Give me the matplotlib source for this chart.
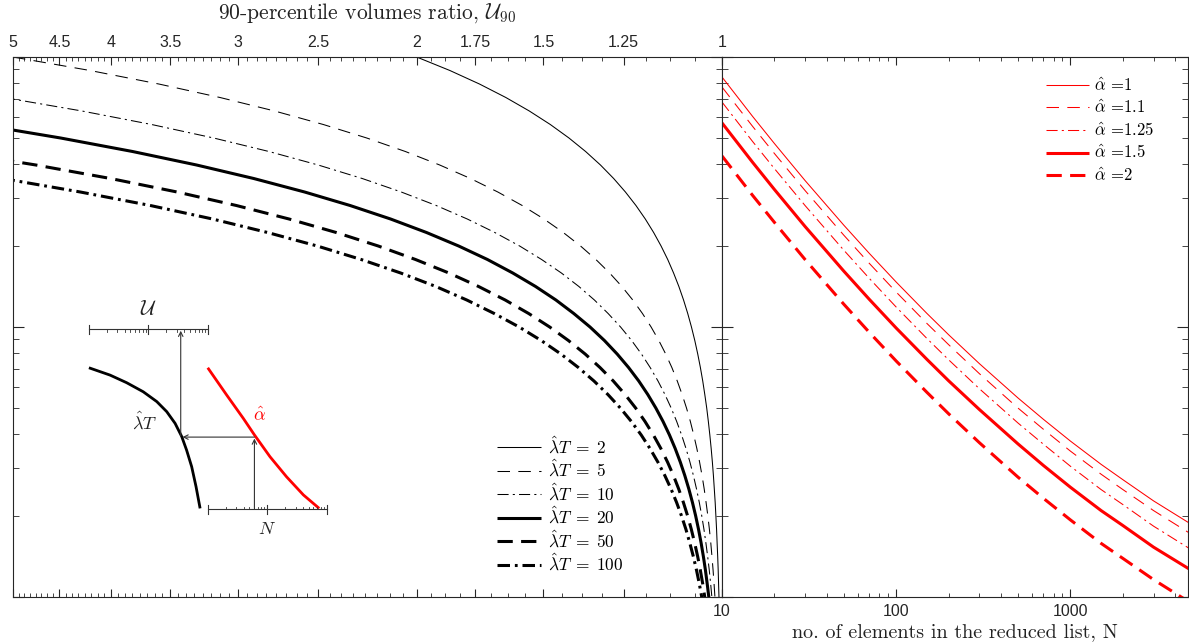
import numpy as np
import matplotlib
matplotlib.use("Agg")
import matplotlib.pyplot as plt
from matplotlib.ticker import FixedLocator, FixedFormatter, NullFormatter, LogLocator

plt.rcParams["mathtext.fontset"] = "cm"
plt.rcParams["font.family"] = ["Liberation Sans", "DejaVu Sans"]
plt.rcParams["lines.scale_dashes"] = False
plt.rcParams["axes.unicode_minus"] = False

# ---------------- data ----------------
# shared vertical quantity (log axis, unlabeled)
y_levels = [1.0, 0.8913, 0.7943, 0.7079, 0.6310, 0.5623, 0.5012, 0.4467, 0.3981, 0.3548,
            0.3162, 0.2818, 0.2512, 0.2239, 0.1995, 0.1778, 0.1585, 0.1413, 0.1259, 0.1122,
            0.1000, 0.0891, 0.0794, 0.0708, 0.0631, 0.0562, 0.0501, 0.0447, 0.0398, 0.0355,
            0.0316, 0.0282, 0.0251, 0.0224, 0.0200, 0.0178, 0.0158, 0.0141, 0.0126, 0.0112,
            0.0100, 0.0089]

lamT_labels = ["2", "5", "10", "20", "50", "100"]
U_lamT_2 = [2.0000, 1.8548, 1.7343, 1.6334, 1.5487, 1.4766, 1.4154, 1.3629, 1.3177, 1.2788,
            1.2451, 1.2157, 1.1902, 1.1679, 1.1483, 1.1311, 1.1162, 1.1029, 1.0912, 1.0809,
            1.0718, 1.0637, 1.0566, 1.0503, 1.0447, 1.0398, 1.0353, 1.0315, 1.0280, 1.0249,
            1.0221, 1.0197, 1.0176, 1.0156, 1.0140, 1.0124, 1.0111, 1.0098, 1.0087, 1.0078,
            1.0069, 1.0062]
U_lamT_5 = [5.000, 4.198, 3.591, 3.125, 2.761, 2.472, 2.240, 2.052, 1.898, 1.770,
            1.6634, 1.5738, 1.4982, 1.4339, 1.3786, 1.3314, 1.2906, 1.2553, 1.2246, 1.1979,
            1.1746, 1.1542, 1.1363, 1.1206, 1.1069, 1.0947, 1.0839, 1.0745, 1.0662, 1.0588,
            1.0522, 1.0464, 1.0412, 1.0368, 1.0327, 1.0290, 1.0257, 1.0230, 1.0205, 1.0182,
            1.0162, 1.0144]
U_lamT_10 = [5.105, 4.276, 3.650, 3.171, 2.797, 2.501, 2.263,
             2.071, 1.913, 1.783, 1.675, 1.583, 1.506, 1.440, 1.384, 1.336, 1.295,
             1.2589, 1.2277, 1.2006, 1.1771, 1.1564, 1.1382, 1.1223, 1.1084, 1.0960, 1.0852,
             1.0755, 1.0671, 1.0595, 1.0529, 1.0471, 1.0418, 1.0371, 1.0330, 1.0294, 1.0261,
             1.0233, 1.0207]
U_lamT_20 = [5.390, 4.488, 3.812, 3.296, 2.895,
             2.579, 2.326, 2.122, 1.956, 1.818, 1.703, 1.608, 1.527, 1.458, 1.400,
             1.3493, 1.3059, 1.2686, 1.2363, 1.2080, 1.1834, 1.1620, 1.1433, 1.1266, 1.1122,
             1.0993, 1.0882, 1.0781, 1.0694, 1.0617, 1.0547, 1.0484, 1.0431, 1.0384, 1.0342,
             1.0304, 1.0271]
U_lamT_50 = [5.740, 4.747, 4.007,
             3.445, 3.011, 2.672, 2.401, 2.182, 2.005, 1.859, 1.738, 1.636, 1.551,
             1.4787, 1.4171, 1.3642, 1.3192, 1.2799, 1.2460, 1.2165, 1.1911, 1.1685, 1.1490,
             1.1316, 1.1166, 1.1032, 1.0916, 1.0813, 1.0721, 1.0638, 1.0567, 1.0505, 1.0448,
             1.0399, 1.0354]
U_lamT_100 = [5.121,
              4.291, 3.660, 3.179, 2.806, 2.506, 2.268, 2.074, 1.915, 1.785, 1.677,
              1.5849, 1.5073, 1.4414, 1.3856, 1.3373, 1.2955, 1.2596, 1.2286, 1.2012, 1.1777,
              1.1567, 1.1387, 1.1225, 1.1086, 1.0964, 1.0853, 1.0756, 1.0671, 1.0597, 1.0529,
              1.0471, 1.0418]

U_ticks = [5, 4.5, 4, 3.5, 3, 2.5, 2, 1.75, 1.5, 1.25, 1]
U_tick_labels = ["5", "4.5", "4", "3.5", "3", "2.5", "2", "1.75", "1.5", "1.25", "1"]

N_values = [10, 15, 20, 30, 50, 70, 100, 150, 200, 300, 500, 700, 1000, 1500, 2000, 3000, 5000]
alpha_labels = ["1", "1.1", "1.25", "1.5", "2"]
y_alpha_1 = [0.843, 0.602, 0.478, 0.3485, 0.2384, 0.1875, 0.1467, 0.1123, 0.0936, 0.0732,
             0.0546, 0.0455, 0.0378, 0.0310, 0.0272, 0.0227, 0.0185]
y_alpha_1_1 = [0.774, 0.553, 0.439, 0.320, 0.2189, 0.1722, 0.1347, 0.1031, 0.0860, 0.0672,
               0.0501, 0.0418, 0.0347, 0.0285, 0.0250, 0.0209, 0.0170]
y_alpha_1_25 = [0.681, 0.486, 0.386, 0.2816, 0.1926, 0.1515, 0.1185, 0.0907, 0.0756, 0.0591,
                0.0441, 0.0368, 0.0305, 0.0250, 0.0220, 0.0183, 0.0149]
y_alpha_1_5 = [0.570, 0.407, 0.323, 0.2355, 0.1611, 0.1267, 0.0991, 0.0759, 0.0632, 0.0495,
               0.0369, 0.0307, 0.0255, 0.0209, 0.0184, 0.0153, 0.0125]
y_alpha_2 = [0.430, 0.307, 0.244, 0.1777, 0.1215, 0.0956, 0.0748, 0.0573, 0.0477, 0.0373,
             0.0278, 0.0232, 0.0193, 0.0158, 0.0139, 0.0116, 0.00943]
N_ticks = [10, 100, 1000]
N_tick_labels = ["10", "100", "1000"]

# schematic inset (how to read the nomogram), inset-axes fractions
inset_black_u = [0.035, 0.118, 0.183, 0.248, 0.301, 0.340, 0.373, 0.399, 0.418, 0.438, 0.455, 0.471]
inset_black_v = [0.703, 0.673, 0.642, 0.605, 0.565, 0.524, 0.476, 0.422, 0.367, 0.299, 0.218, 0.129]
inset_red_u = [0.501, 0.575, 0.640, 0.684, 0.745, 0.810, 0.876, 0.938]
inset_red_v = [0.703, 0.592, 0.497, 0.429, 0.340, 0.258, 0.184, 0.129]
inset_scale_ticks = [1, 2, 3, 4, 5, 6, 7, 8, 9, 10, 20, 30, 40, 50, 60, 70, 80, 90, 100]

# ---------------- styles ----------------
thin, thick = 0.75, 2.2
styles = [
    dict(lw=thin, ls="-"),
    dict(lw=thin, ls=(0, (9, 6))),
    dict(lw=thin, ls=(0, (8, 3, 1.5, 3))),
    dict(lw=thick, ls="-"),
    dict(lw=thick, ls=(0, (11, 6))),
    dict(lw=thick, ls=(0, (9, 3.5, 2, 3.5))),
]
axcol = "#262626"
serif = "cmr10"

W, H = 1189, 643
fig = plt.figure(figsize=(W / 100, H / 100), dpi=100)


def px_rect(x0, x1, y0, y1):
    return [x0 / W, 1 - y1 / H, (x1 - x0) / W, (y1 - y0) / H]


axL = fig.add_axes(px_rect(13, 722, 57, 597))
axR = fig.add_axes(px_rect(722, 1187.5, 57, 597))

# ---------------- left panel ----------------
curves = [U_lamT_2, U_lamT_5, U_lamT_10, U_lamT_20, U_lamT_50, U_lamT_100]
for U, lab, st in zip(curves, lamT_labels, styles):
    axL.plot(U, y_levels[-len(U):], color="black", label=r"$\hat{\lambda}T\;=\;%s$" % lab,
             solid_capstyle="butt", dash_capstyle="butt", **st)

axL.set_xscale("log")
axL.set_yscale("log")
axL.set_xlim(5, 1)
axL.set_ylim(0.01, 1)
axL.xaxis.set_major_locator(FixedLocator(U_ticks))
axL.xaxis.set_major_formatter(FixedFormatter(U_tick_labels))
minorU = [v for v in np.arange(1, 5.0001, 1 / 16) if min(abs(v - t) for t in U_ticks) > 1e-6]
axL.xaxis.set_minor_locator(FixedLocator(minorU))
axL.xaxis.set_minor_formatter(NullFormatter())
axL.yaxis.set_major_locator(LogLocator(base=10))
axL.yaxis.set_minor_locator(LogLocator(base=10, subs=np.arange(2, 10)))
axL.yaxis.set_major_formatter(NullFormatter())
axL.yaxis.set_minor_formatter(NullFormatter())
axL.tick_params(axis="x", which="both", direction="in", top=True, bottom=True,
                labeltop=True, labelbottom=False, colors=axcol, labelsize=11.5, pad=5)
axL.tick_params(axis="x", which="major", length=6, width=0.8)
axL.tick_params(axis="x", which="minor", length=3, width=0.6)
axL.tick_params(axis="y", which="both", direction="in", left=True, right=True,
                labelleft=False, colors=axcol)
axL.tick_params(axis="y", which="major", length=8, width=0.8)
axL.tick_params(axis="y", which="minor", length=4, width=0.6)
for s in axL.spines.values():
    s.set_color(axcol)
    s.set_linewidth(0.8)
axL.xaxis.set_label_position("top")
axL.set_xlabel(r"90-percentile volumes ratio, $\mathcal{U}_{90}$", family=serif,
               fontsize=15.5, labelpad=11.5, color="#222222")

legL = axL.legend(loc="upper left", bbox_to_anchor=(0.683, 0.300), frameon=False,
                  prop={"family": serif, "size": 12.5}, handlelength=2.5,
                  handletextpad=0.4, labelspacing=0.12, borderpad=0, borderaxespad=0)

# ---------------- right panel ----------------
red_series = [y_alpha_1, y_alpha_1_1, y_alpha_1_25, y_alpha_1_5, y_alpha_2]
for yv, lab, st in zip(red_series, alpha_labels, styles[:5]):
    axR.plot(N_values, yv, color="red", label=r"$\hat{\alpha}$ =%s" % lab,
             solid_capstyle="butt", dash_capstyle="butt", **st)

axR.set_xscale("log")
axR.set_yscale("log")
axR.set_xlim(10, 4700)
axR.set_ylim(0.01, 1)
axR.xaxis.set_major_locator(FixedLocator(N_ticks))
axR.xaxis.set_major_formatter(FixedFormatter(N_tick_labels))
axR.xaxis.set_minor_locator(LogLocator(base=10, subs=np.arange(2, 10)))
axR.xaxis.set_minor_formatter(NullFormatter())
axR.yaxis.set_major_locator(LogLocator(base=10))
axR.yaxis.set_minor_locator(LogLocator(base=10, subs=np.arange(2, 10)))
axR.yaxis.set_major_formatter(NullFormatter())
axR.yaxis.set_minor_formatter(NullFormatter())
axR.tick_params(axis="x", which="both", direction="in", top=True, bottom=True,
                labelsize=11.5, colors=axcol, pad=5)
axR.tick_params(axis="x", which="major", length=6, width=0.8)
axR.tick_params(axis="x", which="minor", length=3, width=0.6)
axR.tick_params(axis="y", which="both", direction="in", left=True, right=True,
                labelleft=False, colors=axcol)
axR.tick_params(axis="y", which="major", length=8, width=0.8)
axR.tick_params(axis="y", which="minor", length=4, width=0.6)
for s in axR.spines.values():
    s.set_color(axcol)
    s.set_linewidth(0.8)
axR.set_xlabel("no. of elements in the reduced list, N", family=serif, fontsize=14.5,
               labelpad=3, color="#222222")
legR = axR.legend(loc="upper left", bbox_to_anchor=(0.695, 0.965), frameon=False,
                  prop={"family": serif, "size": 12}, handlelength=2.6,
                  handletextpad=0.3, labelspacing=0.28, borderpad=0, borderaxespad=0)

# ---------------- schematic inset ----------------
axI = fig.add_axes(px_rect(80, 335, 295, 540))
axI.set_xlim(0, 1)
axI.set_ylim(0, 1)
axI.set_axis_off()
axI.patch.set_alpha(0)

axI.plot(inset_black_u, inset_black_v, color="black", lw=2.0, solid_capstyle="butt")
axI.plot(inset_red_u, inset_red_v, color="red", lw=2.0, solid_capstyle="butt")

scale_col = "#333333"
u_scale = (0.035, 0.501, 0.860)   # start, end, level
n_scale = (0.501, 0.967, 0.125)
for (a, b, lev, sign) in [(*u_scale, -1), (*n_scale, 1)]:
    axI.plot([a, b], [lev, lev], color=scale_col, lw=0.8)
    pos = [a + (b - a) * np.log10(k) / 2 for k in inset_scale_ticks]
    major = [k in (1, 10, 100) for k in inset_scale_ticks]
    for p, m in zip(pos, major):
        if m:
            axI.plot([p, p], [lev - 0.018, lev + 0.018], color=scale_col, lw=0.8)
        else:
            axI.plot([p, p], [lev, lev + sign * 0.011], color=scale_col, lw=0.6)

arrow_kw = dict(arrowstyle="->", lw=0.8, color=scale_col, shrinkA=0, shrinkB=0,
                mutation_scale=8)
axI.annotate("", xy=(0.395, 0.854), xytext=(0.395, 0.424), arrowprops=arrow_kw)
axI.annotate("", xy=(0.402, 0.420), xytext=(0.684, 0.420), arrowprops=arrow_kw)
axI.annotate("", xy=(0.684, 0.414), xytext=(0.684, 0.128), arrowprops=arrow_kw)

axI.text(0.268, 0.939, r"$\mathcal{U}$", fontsize=15, ha="center", va="center", color="#222222")
axI.text(0.255, 0.483, r"$\hat{\lambda}T$", fontsize=13, ha="center", va="center", color="#222222")
axI.text(0.703, 0.510, r"$\hat{\alpha}$", fontsize=13, ha="center", va="center", color="red")
axI.text(0.732, 0.041, r"$N$", fontsize=13, ha="center", va="center", color="#222222")

fig.savefig("out.png", dpi=100)
